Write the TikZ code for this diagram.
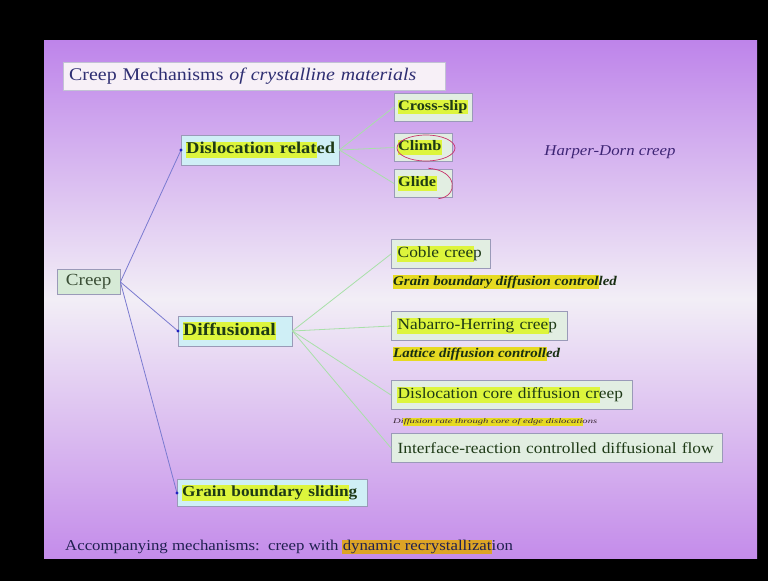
\documentclass[tikz,border=0pt]{standalone}
\usepackage{fontspec}
\usepackage{graphicx}
\setmainfont{Liberation Serif}[FakeStretch=1.12]
\definecolor{slidetop}{HTML}{BE84EA}
\definecolor{slidemid}{HTML}{F2EEF6}
\definecolor{slidebot}{HTML}{C48CEA}
\definecolor{boxedge}{HTML}{9A9AB8}
\definecolor{cyanbox}{HTML}{CFEFF6}
\definecolor{leafbox}{HTML}{E2EEE2}
\definecolor{creepbox}{HTML}{D6EAD6}
\definecolor{textgreen}{HTML}{1E3A16}
\definecolor{titleblue}{HTML}{2E2E72}
\definecolor{hlyel}{HTML}{DDF53C}
\definecolor{hlsub}{HTML}{E6DA22}
\definecolor{hlorange}{HTML}{DDA425}
\definecolor{connblue}{HTML}{7A7AD0}
\definecolor{conngreen}{HTML}{A8E0A8}
\definecolor{dotblue}{HTML}{2020C0}
\definecolor{markred}{HTML}{C8306A}
\newcommand{\hlt}[2][hlyel]{{\setlength{\fboxsep}{0.6pt}\kern-0.6pt\colorbox{#1}{\vphantom{Ag}#2}\kern-0.6pt}}
\begin{document}
\begin{tikzpicture}[x=1pt,y=-1pt,
  lvl/.style={draw=boxedge, fill=cyanbox, font=\fontsize{16.5}{19}\selectfont\bfseries, text=textgreen, inner xsep=5pt, inner ysep=4pt, minimum height=30pt, anchor=west, align=left},
  leafsm/.style={draw=boxedge, fill=leafbox, font=\fontsize{14.5}{17}\selectfont\bfseries, text=textgreen, inner xsep=4pt, inner ysep=3pt, minimum height=28pt, anchor=west, align=left},
  leaf/.style={draw=boxedge, fill=leafbox, font=\fontsize{15.5}{18}\selectfont, text=textgreen, inner xsep=6.5pt, inner ysep=4pt, minimum height=29pt, anchor=west, align=left},
  sub/.style={font=\fontsize{13.3}{15}\selectfont\bfseries\itshape, text=textgreen!80!black, inner sep=0pt, anchor=west},
  conn/.style={draw=connblue, line width=0.8pt},
  conng/.style={draw=conngreen, line width=0.8pt},
  bdot/.style={fill=dotblue}
]
\useasboundingbox (0,0) rectangle (768,581);
\fill[black] (0,0) rectangle (768,581);
\shade[top color=slidetop, bottom color=slidebot, middle color=slidemid] (44,40) rectangle (757,558);

% title
\node[draw=boxedge!60, fill=white!94!violet, text=titleblue, font=\fontsize{17.8}{21}\selectfont, inner xsep=6pt, inner ysep=4pt, minimum height=28pt, text width=370pt, align=left, anchor=west] (title) at (63,76) {\mbox{Creep Mechanisms \textit{of crystalline materials}}};

% root
\node[draw=boxedge, fill=creepbox, text=textgreen!70!gray, font=\fontsize{17}{20}\selectfont, inner sep=4pt, minimum height=25pt, text width=55pt, align=center, anchor=west] (creep) at (57,282) {Creep};

% level 1
\node[lvl, text width=148pt] (dr) at (181,150) {\mbox{\hlt{Dislocation relat}ed}};
\node[lvl, text width=104pt, font=\fontsize{17.5}{20}\selectfont\bfseries] (dif) at (178,331) {\mbox{\hlt{Diffusional}}};
\node[lvl, minimum height=27pt, text width=180pt, font=\fontsize{15.4}{18}\selectfont\bfseries] (gbs) at (177,493) {\mbox{\hlt{Grain boundary slidin}g}};

% dislocation leaves
\node[leafsm, text width=70pt] (cs) at (394,107) {\mbox{\hlt{Cross-slip}}};
\node[leafsm, text width=50pt] (cl) at (394,147.5) {\mbox{\hlt{Climb}}};
\node[leafsm, text width=50pt] (gl) at (394,183.5) {\mbox{\hlt{Glide}}};
\draw[markred, line width=0.7pt] (426,148) ellipse (29pt and 13pt);
\draw[markred, line width=0.7pt] ([xshift=-24pt,yshift=1pt]gl.north east) .. controls ([xshift=6pt,yshift=-1pt]gl.north east) and ([xshift=6pt,yshift=1pt]gl.south east) .. ([xshift=-14pt,yshift=-1pt]gl.south east);

\node[font=\fontsize{15}{18}\selectfont\itshape, text=titleblue!80!violet] (hd) at (610,152) {Harper-Dorn creep};

% diffusional leaves
\node[leaf, text width=86pt] (cob) at (391,254) {\mbox{\hlt{Coble cree}p}};
\node[sub] (cobs) at (393,282) {\hlt[hlsub]{Grain boundary diffusion control}led};
\node[leaf, text width=163pt] (nh) at (391,326) {\mbox{\hlt{Nabarro-Herring cree}p}};
\node[sub] (nhs) at (393,354) {\hlt[hlsub]{Lattice diffusion controll}ed};
\node[leaf, text width=228pt] (dcd) at (391,395) {\mbox{\hlt{Dislocation core diffusion cr}eep}};
\node[inner sep=0pt, anchor=west, text=textgreen!70!violet] (dcds) at (393,422) {\resizebox{204pt}{5.5pt}{\fontsize{8}{9}\selectfont\itshape Di\hlt[hlsub]{ffusion rate through core of edge dislocati}ons}};
\node[leaf, text width=318pt] (ir) at (391,448) {\mbox{Interface-reaction controlled diffusional flow}};

% connectors from root
\draw[conn] (creep.east) -- (dr.west);
\draw[conn] (creep.east) -- (dif.west);
\draw[conn] (creep.east) -- (gbs.west);
\fill[bdot] (dr.west) circle (1.7pt);
\fill[bdot] (dif.west) circle (1.7pt);
\fill[bdot] (gbs.west) circle (1.7pt);

% green connectors
\draw[conng] (dr.east) -- (cs.west);
\draw[conng] (dr.east) -- (cl.west);
\draw[conng] (dr.east) -- (gl.west);
\draw[conng] (dif.east) -- (cob.west);
\draw[conng] (dif.east) -- (nh.west);
\draw[conng] (dif.east) -- (dcd.west);
\draw[conng] (dif.east) -- (ir.west);

% bottom note
\node[anchor=west, font=\fontsize{15}{18}\selectfont, text=titleblue!70!black, inner sep=0pt] (acc) at (65,547) {Accompanying mechanisms:\ \ creep with \hlt[hlorange]{dynamic recrystallizat}ion};
\end{tikzpicture}
\end{document}
